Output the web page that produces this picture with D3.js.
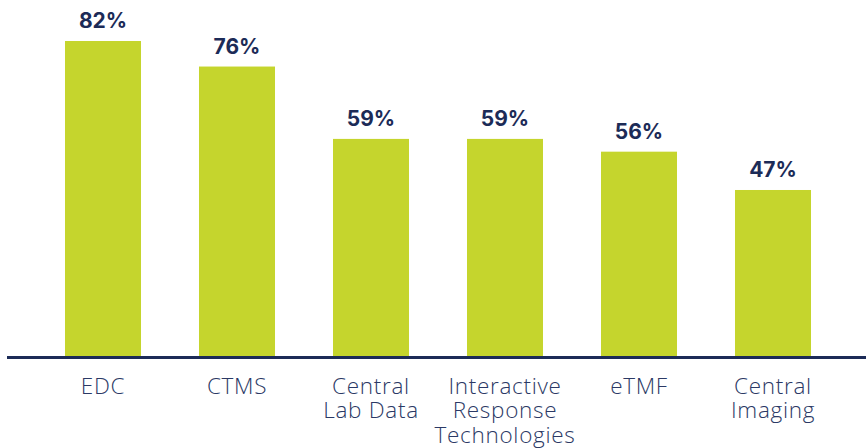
<!DOCTYPE html>
<html><head><meta charset="utf-8">
<script src="https://cdn.jsdelivr.net/npm/d3@7"></script>
<style>html,body{margin:0;padding:0;background:#fff;}svg{display:block;}</style>
</head><body><svg id="c" width="866" height="448"></svg>
<script>
const categories = ["EDC", "CTMS", "Central\nLab Data", "Interactive\nResponse\nTechnologies", "eTMF", "Central\nImaging"];
const values = [82, 76, 59, 59, 56, 47];
const valueLabels = ["82%", "76%", "59%", "59%", "56%", "47%"];

const svg = d3.select("#c");
const x = d3.scaleBand().domain(categories).range([36, 840]).paddingInner(0.4328).paddingOuter(0.2164);
const y = d3.scaleLinear().domain([8, 82]).range([356, 41]);

svg.selectAll("rect.bar").data(values).join("rect")
  .attr("class", "bar")
  .attr("x", (d, i) => x(categories[i]))
  .attr("width", x.bandwidth())
  .attr("y", d => y(d))
  .attr("height", d => y.range()[0] - y(d))
  .attr("fill", "#c5d52d");

svg.selectAll("text.val").data(values).join("text")
  .attr("class", "val")
  .attr("x", (d, i) => x(categories[i]) + x.bandwidth() / 2)
  .attr("y", d => y(d) - 13)
  .attr("text-anchor", "middle")
  .attr("font-family", "Inter, 'Open Sans', sans-serif")
  .attr("font-weight", 700)
  .attr("font-size", 21)
  .attr("fill", "#1c2b57")
  .text((d, i) => valueLabels[i]);

// axis
const axis = d3.axisBottom(x).tickSize(0).tickFormat("");
const ag = svg.append("g").attr("transform", "translate(0,357.5)").call(axis);
ag.select(".domain").remove();
ag.append("line").attr("x1", 7).attr("x2", 866).attr("y1", 0).attr("y2", 0)
  .attr("stroke", "#1c2b57").attr("stroke-width", 3);

ag.selectAll(".tick").each(function(d) {
  const t = d3.select(this).append("text")
    .attr("text-anchor", "middle")
    .attr("font-family", "'Open Sans', Roboto, sans-serif")
    .attr("font-weight", 300)
    .attr("font-size", 22.5)
    .attr("letter-spacing", 0.7)
    .attr("fill", "#2b3965");
  d.split("\n").forEach((line, i) => {
    t.append("tspan").attr("x", 0).attr("y", 36 + i * 24.5).text(line);
  });
});
</script></body></html>
